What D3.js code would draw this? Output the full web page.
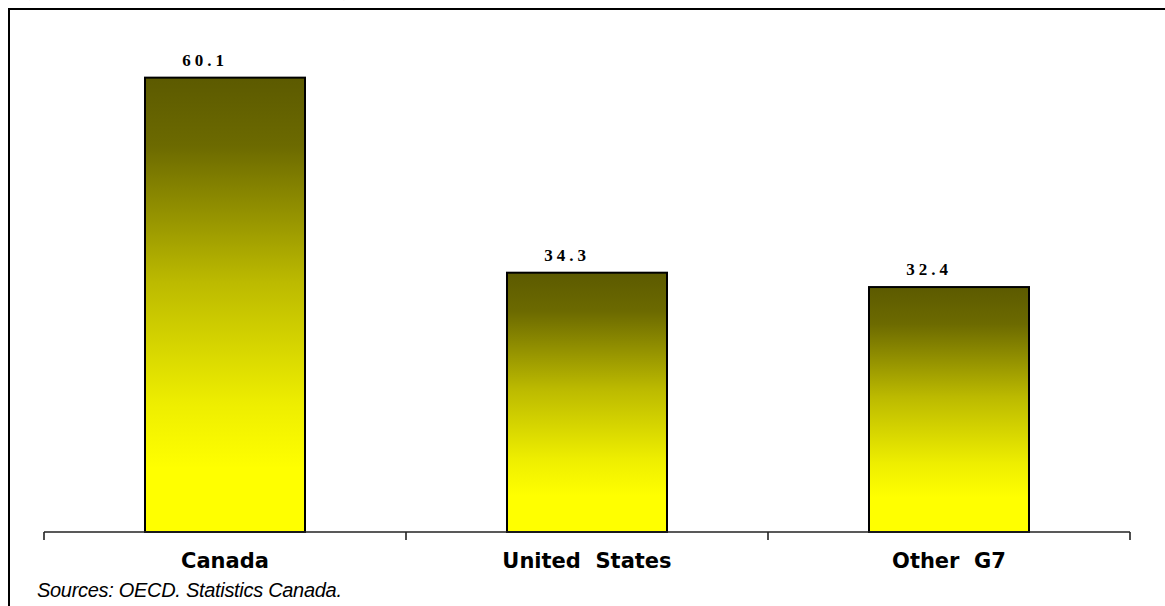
<!DOCTYPE html>
<html>
<head>
<meta charset="utf-8">
<script src="https://cdn.jsdelivr.net/npm/d3@7"></script>
<style>
  html, body { margin: 0; padding: 0; background: #fff; }
  svg { display: block; }
</style>
</head>
<body>
<svg id="chart" width="1165" height="606"></svg>
<script>
// Chart data
const categories = ["Canada", "United  States", "Other  G7"];
const values = [60.1, 34.3, 32.4];
const valueLabels = ["60.1", "34.3", "32.4"];
const subtitle = "(as a percentage of GDP)";
const source = "Sources: OECD. Statistics Canada.";

const svg = d3.select("#chart");
const W = 1165, H = 606;

// Scales
const x = d3.scaleBand().domain(categories).range([44, 1130]).paddingInner(0).paddingOuter(0);
const y = d3.scaleLinear().domain([0, 70]).range([532, 2.8]);
const barW = x.bandwidth() * 0.442;

// Per-bar vertical gradients: dark olive at the top fading to bright yellow
const defs = svg.append("defs");
values.forEach((v, i) => {
  const g = defs.append("linearGradient")
    .attr("id", "barGrad" + i)
    .attr("x1", 0).attr("x2", 0).attr("y1", 0).attr("y2", 1);
  [["0%", "#5c5a00"], ["15%", "#6c6a00"], ["45%", "#bcba00"], ["72%", "#eeee00"], ["86%", "#ffff00"], ["100%", "#ffff00"]]
    .forEach(([o, c]) => g.append("stop").attr("offset", o).attr("stop-color", c));
});

// Subtitle, mostly above the visible area
svg.append("text")
  .attr("x", 20).attr("y", -7)
  .attr("font-family", "Liberation Serif, Times New Roman, serif")
  .attr("font-size", 33)
  .attr("fill", "#000")
  .text(subtitle);

// Outer frame (top and left edges)
svg.append("path")
  .attr("d", `M9,${H} L9,9 L${W},9`)
  .attr("fill", "none")
  .attr("stroke", "#000")
  .attr("stroke-width", 2);

// Bars
svg.selectAll("rect.bar")
  .data(values)
  .join("rect")
  .attr("class", "bar")
  .attr("x", (d, i) => x(categories[i]) + (x.bandwidth() - barW) / 2)
  .attr("y", d => y(d))
  .attr("width", barW)
  .attr("height", d => y(0) - y(d))
  .attr("fill", (d, i) => `url(#barGrad${i})`)
  .attr("stroke", "#000")
  .attr("stroke-width", 2);

// Category axis: baseline and separators at band edges
const axisG = svg.append("g").attr("stroke", "#222").attr("stroke-width", 1.6);
axisG.append("line")
  .attr("x1", x.range()[0]).attr("x2", x.range()[1])
  .attr("y1", y(0)).attr("y2", y(0));
const edges = categories.map(c => x(c)).concat([x.range()[1]]);
axisG.selectAll("line.tick")
  .data(edges)
  .join("line")
  .attr("class", "tick")
  .attr("x1", d => d).attr("x2", d => d)
  .attr("y1", y(0)).attr("y2", y(0) + 8);

// Category labels
svg.selectAll("text.cat")
  .data(categories)
  .join("text")
  .attr("class", "cat")
  .attr("x", d => x(d) + x.bandwidth() / 2)
  .attr("y", 568)
  .attr("text-anchor", "middle")
  .attr("font-family", "DejaVu Sans, Verdana, sans-serif")
  .attr("font-weight", "bold")
  .attr("font-size", 21)
  .attr("fill", "#000")
  .style("white-space", "pre")
  .text(d => d);

// Value labels above bars
svg.selectAll("text.val")
  .data(values)
  .join("text")
  .attr("class", "val")
  .attr("x", (d, i) => x(categories[i]) + x.bandwidth() / 2 - 20)
  .attr("y", d => y(d) - 12)
  .attr("text-anchor", "middle")
  .attr("font-family", "Liberation Serif, Times New Roman, serif")
  .attr("font-weight", "bold")
  .attr("font-size", 17)
  .attr("letter-spacing", 4)
  .attr("fill", "#000")
  .text((d, i) => valueLabels[i]);

// Source note
svg.append("text")
  .attr("x", 37).attr("y", 597)
  .attr("font-family", "Liberation Sans, Arial, sans-serif")
  .attr("font-style", "italic")
  .attr("font-size", 20)
  .attr("letter-spacing", -0.3)
  .attr("fill", "#000")
  .text(source);
</script>
</body>
</html>
